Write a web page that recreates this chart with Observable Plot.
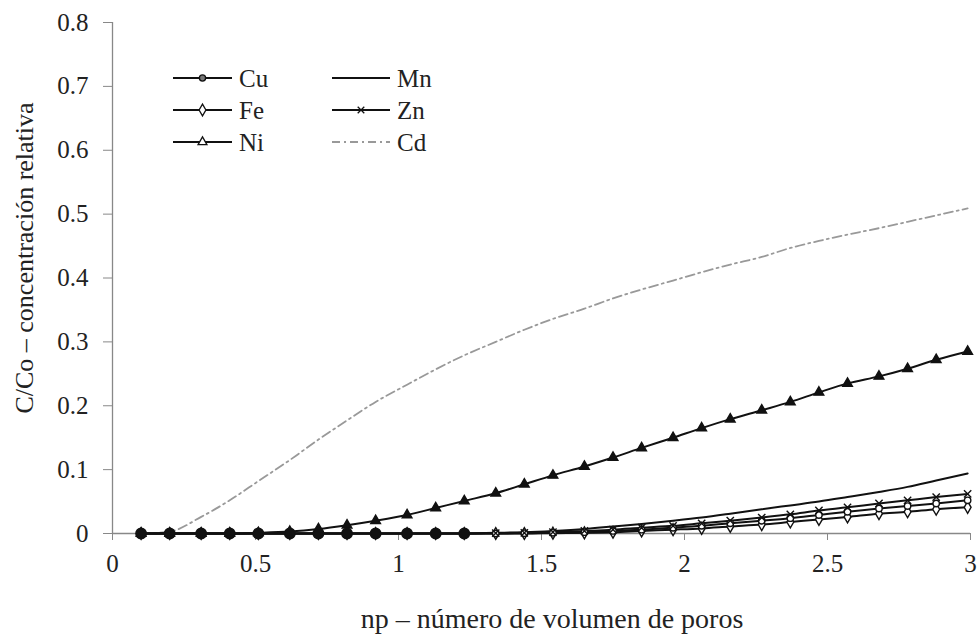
<!DOCTYPE html>
<html>
<head>
<meta charset="utf-8">
<script src="https://cdn.jsdelivr.net/npm/d3@7"></script>
<script src="https://cdn.jsdelivr.net/npm/@observablehq/plot@0.6"></script>
<style>
  html, body { margin: 0; padding: 0; background: #fff; }
  #wrap { position: relative; width: 977px; height: 634px; }
  #legend { position: absolute; left: 0; top: 0; }
</style>
</head>
<body>
<div id="wrap"></div>
<script>
// pore volume number (np) at each sampled point
const np = [0.10, 0.20, 0.31, 0.41, 0.51, 0.62, 0.72, 0.82, 0.92, 1.03, 1.13, 1.23, 1.34, 1.44, 1.54, 1.65, 1.75, 1.85, 1.96, 2.06, 2.16, 2.27, 2.37, 2.47, 2.57, 2.68, 2.78, 2.88, 2.99];

const Cu = [0, 0, 0, 0, 0, 0, 0, 0, 0, 0, 0, 0, 0, 0.0005, 0.001, 0.002, 0.004, 0.006, 0.009, 0.012, 0.016, 0.020, 0.024, 0.029, 0.034, 0.039, 0.043, 0.047, 0.052];
const Fe = [0, 0, 0, 0, 0, 0, 0, 0, 0, 0, 0, 0, 0, 0, 0.0005, 0.001, 0.002, 0.004, 0.006, 0.008, 0.011, 0.014, 0.018, 0.022, 0.026, 0.031, 0.034, 0.038, 0.041];
const Ni = [0, 0, 0, 0, 0.001, 0.003, 0.007, 0.013, 0.020, 0.029, 0.040, 0.051, 0.063, 0.077, 0.091, 0.105, 0.119, 0.134, 0.150, 0.165, 0.179, 0.193, 0.206, 0.221, 0.235, 0.246, 0.258, 0.272, 0.285];
const Mn = [0, 0, 0, 0, 0, 0, 0, 0, 0, 0, 0, 0, 0.001, 0.002, 0.004, 0.007, 0.011, 0.015, 0.020, 0.025, 0.031, 0.038, 0.044, 0.050, 0.057, 0.065, 0.073, 0.083, 0.094];
const Zn = [0, 0, 0, 0, 0, 0, 0, 0, 0, 0, 0, 0, 0.0005, 0.001, 0.002, 0.004, 0.006, 0.009, 0.012, 0.016, 0.020, 0.025, 0.030, 0.036, 0.041, 0.047, 0.052, 0.057, 0.062];
const Cd = [0, 0.003, 0.026, 0.052, 0.082, 0.115, 0.147, 0.177, 0.206, 0.233, 0.257, 0.279, 0.300, 0.319, 0.336, 0.352, 0.368, 0.382, 0.396, 0.409, 0.421, 0.433, 0.447, 0.458, 0.468, 0.478, 0.488, 0.498, 0.509];

const xTicks = [0, 0.5, 1, 1.5, 2, 2.5, 3];
const yTicks = [0, 0.1, 0.2, 0.3, 0.4, 0.5, 0.6, 0.7, 0.8];

const xLabel = "np – número de volumen de poros";
const yLabel = "C/Co – concentración relativa";

const seriesNames = ["Cu", "Fe", "Ni", "Mn", "Zn", "Cd"];

function rows(vals, name) {
  return np.map((x, i) => ({ x, y: vals[i], s: name }));
}
const dCu = rows(Cu, "Cu"), dFe = rows(Fe, "Fe"), dNi = rows(Ni, "Ni"),
      dMn = rows(Mn, "Mn"), dZn = rows(Zn, "Zn"), dCd = rows(Cd, "Cd");

const INK = "#111";
const AXIS = "#888";
const CURVE = "monotone-x";
const SERIF = "'Liberation Serif', 'Times New Roman', serif";

const chart = Plot.plot({
  width: 977,
  height: 634,
  marginLeft: 112,
  marginRight: 7,
  marginTop: 22,
  marginBottom: 101,
  style: { fontFamily: SERIF, fontSize: "25px", background: "#fff", color: "#222" },
  x: { domain: [0, 3] },
  y: { domain: [0, 0.8] },
  marks: [
    Plot.ruleX([0], { y1: 0, y2: 0.8, stroke: AXIS, strokeWidth: 1.3 }),
    Plot.ruleY([0], { x1: 0, x2: 3, stroke: AXIS, strokeWidth: 1.3 }),
    Plot.axisX({ ticks: xTicks, tickFormat: d3.format("~g"), tickSize: 7, tickPadding: 14, stroke: AXIS, label: null, fontSize: 25, color: "#222" }),
    Plot.axisY({ ticks: yTicks, tickFormat: d3.format("~g"), tickSize: 9, tickPadding: 15, stroke: AXIS, label: null, fontSize: 25, color: "#222" }),
    Plot.line(dCd, { x: "x", y: "y", stroke: "#999", strokeWidth: 1.8, strokeDasharray: "9,4,2,4", curve: CURVE }),
    Plot.line(dMn, { x: "x", y: "y", stroke: INK, strokeWidth: 2, curve: CURVE }),
    Plot.line(dFe, { x: "x", y: "y", stroke: INK, strokeWidth: 2, curve: CURVE }),
    Plot.line(dCu, { x: "x", y: "y", stroke: INK, strokeWidth: 2, curve: CURVE }),
    Plot.line(dZn, { x: "x", y: "y", stroke: INK, strokeWidth: 2, curve: CURVE }),
    Plot.line(dNi, { x: "x", y: "y", stroke: INK, strokeWidth: 2, curve: CURVE }),
    Plot.dot(dFe, { x: "x", y: "y", symbol: "diamond", r: 3.6, fill: "#fff", stroke: INK, strokeWidth: 1.4 }),
    Plot.dot(dCu, { x: "x", y: "y", symbol: "circle", r: 3.2, fill: "#fff", stroke: INK, strokeWidth: 1.4 }),
    Plot.dot(dNi, { x: "x", y: "y", symbol: "triangle", r: 3.6, fill: INK, stroke: INK, strokeWidth: 1.4 }),
    Plot.dot(dZn, { x: "x", y: "y", symbol: "times", r: 3.4, stroke: INK, strokeWidth: 1.4 }),
    // zero-level blobs where all marker series coincide
    Plot.dot(dCu.filter((d, i) => Cu[i] === 0 && Fe[i] === 0 && Zn[i] === 0), { x: "x", y: "y", symbol: "circle", r: 5.2, fill: INK, stroke: INK })
  ]
});

const wrap = document.getElementById("wrap");
wrap.appendChild(chart);

// Legend and axis titles overlay
const legendSpec = [
  { name: "Cu", col: 0, row: 0, symbol: d3.symbolCircle, size: 30, fill: "#777", dash: null, color: INK },
  { name: "Fe", col: 0, row: 1, symbol: d3.symbolDiamond, size: 40, fill: "#fff", dash: null, color: INK },
  { name: "Ni", col: 0, row: 2, symbol: d3.symbolTriangle, size: 34, fill: "#fff", dash: null, color: INK },
  { name: "Mn", col: 1, row: 0, symbol: null, dash: null, color: INK },
  { name: "Zn", col: 1, row: 1, symbol: d3.symbolTimes, size: 30, fill: "none", dash: null, color: INK },
  { name: "Cd", col: 1, row: 2, symbol: null, dash: "8,4,2,4", color: "#999" }
];
const colX = [[173, 232, 239], [332, 390, 397]];
const rowY = [78, 110, 142];

const ov = d3.select(wrap).append("svg")
  .attr("id", "legend")
  .attr("width", 977).attr("height", 634)
  .style("font-family", SERIF)
  .style("font-size", "25px");

legendSpec.forEach(d => {
  const [x1, x2, tx] = colX[d.col];
  const y = rowY[d.row];
  ov.append("line")
    .attr("x1", x1).attr("x2", x2).attr("y1", y).attr("y2", y)
    .attr("stroke", d.color).attr("stroke-width", d.dash ? 1.8 : 2)
    .attr("stroke-dasharray", d.dash);
  if (d.symbol) {
    ov.append("path")
      .attr("d", d3.symbol(d.symbol, d.size)())
      .attr("transform", `translate(${(x1 + x2) / 2},${y})`)
      .attr("fill", d.fill).attr("stroke", INK).attr("stroke-width", 1.3);
  }
  ov.append("text")
    .attr("x", tx).attr("y", y).attr("dy", "0.35em")
    .attr("fill", "#222")
    .text(d.name);
});

ov.append("text")
  .attr("x", 552).attr("y", 618).attr("dy", "0.35em")
  .attr("text-anchor", "middle")
  .attr("fill", "#222")
  .style("font-size", "28px")
  .text(xLabel);

ov.append("text")
  .attr("transform", "translate(24,258) rotate(-90)")
  .attr("dy", "0.35em")
  .attr("text-anchor", "middle")
  .attr("fill", "#222")
  .style("font-size", "26px")
  .text(yLabel);
</script>
</body>
</html>
